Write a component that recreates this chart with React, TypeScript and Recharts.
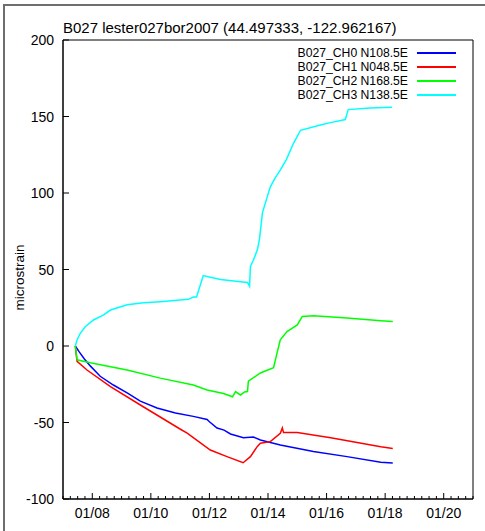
import React from "react";
import { LineChart, Line, XAxis, YAxis, Legend, ReferenceArea } from "recharts";

// x values are days in January 2007 (fractional), y values microstrain
const dayTicks = [8, 10, 12, 14, 16, 18, 20];
const yTicks = [-100, -50, 0, 50, 100, 150, 200];

const seriesNames = ["B027_CH0 N108.5E", "B027_CH1 N048.5E", "B027_CH2 N168.5E", "B027_CH3 N138.5E"];
const seriesColors = ["#0000ff", "#ff0000", "#00ff00", "#00ffff"];

const ch0Days = [7.42, 7.56, 7.73, 7.93, 8.27, 8.72, 9.19, 9.64, 10.21, 10.84, 11.45, 11.92, 12.0, 12.26, 12.5, 12.72, 13.16, 13.5, 13.74, 14.42, 15.55, 16.7, 17.85, 18.26];
const ch0Vals = [0, -4, -8.5, -13, -19.8, -25.5, -30.7, -36, -40.5, -43.8, -46, -48, -49.5, -53.6, -55, -57.5, -60, -59.5, -61.4, -64.7, -69, -72.3, -76, -76.5];

const ch1Days = [7.42, 7.48, 7.82, 8.62, 9.74, 11.01, 11.24, 12.03, 12.6, 13.15, 13.4, 13.63, 13.74, 14.08, 14.42, 14.49, 14.53, 15.0, 16.14, 17.85, 18.26];
const ch1Vals = [0, -10, -15.7, -26.6, -39.7, -54.4, -56.9, -68, -72.3, -76.3, -72.3, -65.8, -63.6, -62.5, -57, -53.6, -56.6, -56.6, -60, -65.8, -67];

const ch2Days = [7.42, 7.48, 7.93, 9.19, 10.32, 11.45, 11.92, 12.48, 12.79, 12.89, 13.06, 13.2, 13.3, 13.33, 13.74, 14.19, 14.31, 14.42, 14.65, 15.0, 15.17, 15.56, 16.7, 17.85, 18.26];
const ch2Vals = [0, -9, -11, -15.7, -21, -25.5, -28.8, -31, -33.2, -29.8, -32, -30, -29.8, -23, -17.6, -14.2, -4.5, 4, 9.4, 13.8, 19.3, 19.8, 18.3, 16.5, 16];

const ch3Days = [7.42, 7.48, 7.59, 7.76, 8.04, 8.39, 8.62, 9.19, 9.75, 10.32, 11.28, 11.45, 11.56, 11.79, 12.03, 12.38, 13.06, 13.3, 13.37, 13.4, 13.5, 13.64, 13.71, 13.81, 13.95, 14.08, 14.25, 14.42, 14.63, 14.87, 15.0, 15.11, 15.79, 16.13, 16.64, 16.74, 17.49, 18.24];
const ch3Vals = [0, 3.9, 8.3, 12.6, 17, 20.3, 23.5, 27, 28.3, 29, 30.5, 32, 32, 46, 45, 43.5, 42, 41.5, 39, 52, 56, 63, 70, 87, 96, 104, 110, 115, 122, 132.5, 137, 141, 144.5, 146, 148, 154.5, 155.6, 156];

const allDays = [ch0Days, ch1Days, ch2Days, ch3Days];
const allVals = [ch0Vals, ch1Vals, ch2Vals, ch3Vals];

const seriesData = allDays.map((days, i) => days.map((d, j) => ({ d, v: allVals[i][j] })));

// 6 hour minor ticks
const minorTicks: number[] = [];
for (let t = 7; t <= 21.001; t += 0.25) minorTicks.push(Math.round(t * 100) / 100);

const font = "'Liberation Sans', Arial, Helvetica, sans-serif";
const fmtDay = (v: number) => `01/${String(v).padStart(2, "0")}`;

const BottomTick = (p: any) => {
  const v = p.payload.value;
  const major = dayTicks.includes(v);
  return (
    <g>
      <line x1={p.x} x2={p.x} y1={p.y} y2={p.y - (major ? 6 : 3)} stroke="#000" strokeWidth={1} />
      {major && (
        <text x={p.x} y={p.y + 19} textAnchor="middle" fontSize={14} fontFamily={font} fill="#000">
          {fmtDay(v)}
        </text>
      )}
    </g>
  );
};

const TopTick = (p: any) => {
  const major = dayTicks.includes(p.payload.value);
  return <line x1={p.x} x2={p.x} y1={p.y} y2={p.y + (major ? 6 : 3)} stroke="#000" strokeWidth={1} />;
};

const LeftTick = (p: any) => (
  <g>
    <line x1={p.x} x2={p.x + 6} y1={p.y} y2={p.y} stroke="#000" strokeWidth={1} />
    <text x={p.x - 9} y={p.y + 5} textAnchor="end" fontSize={14} fontFamily={font} fill="#000">
      {p.payload.value}
    </text>
  </g>
);

const RightTick = (p: any) => <line x1={p.x} x2={p.x - 6} y1={p.y} y2={p.y} stroke="#000" strokeWidth={1} />;

const LegendBox = (props: any) => (
  <div style={{ fontFamily: font, fontSize: 12.2, color: "#000" }}>
    {(props.payload || []).map((e: any) => (
      <div key={e.value} style={{ display: "flex", justifyContent: "flex-end", alignItems: "center", height: 14, lineHeight: "14px" }}>
        <span style={{ whiteSpace: "nowrap" }}>{e.value}</span>
        <span style={{ display: "inline-block", width: 39, height: 2, marginLeft: 9, background: e.color }} />
      </div>
    ))}
  </div>
);

const axisLineStyle = { stroke: "#000", strokeWidth: 1 };

export default function App() {
  return (
    <div style={{ position: "absolute", left: 0, top: 0, width: 485, height: 531, background: "#fff", overflow: "hidden" }}>
      <div style={{ position: "absolute", left: 3, top: 4, width: 500, height: 540, boxSizing: "border-box", borderLeft: "2px solid #6e6e6e", borderTop: "2px solid #6e6e6e" }} />
      <div style={{ position: "absolute", left: 63, top: 20, fontFamily: font, fontSize: 15, lineHeight: "15px", color: "#000", whiteSpace: "nowrap" }}>
        B027 lester027bor2007 (44.497333, -122.962167)
      </div>
      <div style={{ position: "absolute", left: 0, top: 0 }}>
        <LineChart width={485} height={531} margin={{ top: 40, right: 12, bottom: 0, left: 0 }}>
          <XAxis
            dataKey="d"
            type="number"
            domain={[7, 21]}
            allowDataOverflow
            ticks={minorTicks}
            interval={0}
            tickSize={0}
            tickMargin={0}
            tickLine={false}
            tick={BottomTick}
            height={32}
            axisLine={axisLineStyle}
          />
          <XAxis
            xAxisId="top"
            orientation="top"
            type="number"
            domain={[7, 21]}
            allowDataOverflow
            ticks={minorTicks}
            interval={0}
            tickSize={0}
            tickMargin={0}
            tickLine={false}
            tick={TopTick}
            height={0}
            axisLine={axisLineStyle}
          />
          <YAxis
            type="number"
            domain={[-100, 200]}
            allowDataOverflow
            ticks={yTicks}
            interval={0}
            tickSize={0}
            tickMargin={0}
            tickLine={false}
            tick={LeftTick}
            width={63}
            axisLine={axisLineStyle}
            label={{
              content: (lp: any) => {
                const vb = lp.viewBox || { x: 0, y: 40, width: 63, height: 459 };
                const cx = vb.x + 24;
                const cy = vb.y + vb.height / 2 + 8;
                return (
                  <text transform={`translate(${cx},${cy}) rotate(-90)`} textAnchor="middle" fontSize={13.5} fontFamily={font} fill="#000">
                    microstrain
                  </text>
                );
              },
            }}
          />
          <YAxis
            yAxisId="r"
            orientation="right"
            type="number"
            domain={[-100, 200]}
            allowDataOverflow
            ticks={yTicks}
            interval={0}
            tickSize={0}
            tickMargin={0}
            tickLine={false}
            tick={RightTick}
            width={0}
            axisLine={axisLineStyle}
          />
          <ReferenceArea x1={7} x2={21} y1={-100} y2={200} fill="none" stroke="#000" strokeWidth={1} ifOverflow="visible" />
          <Legend
            layout="vertical"
            align="center"
            verticalAlign="middle"
            content={LegendBox}
            wrapperStyle={{ position: "absolute", top: 46, left: 256, width: 200, height: 56 }}
          />
          {seriesData.map((data, i) => (
            <Line
              key={seriesNames[i]}
              data={data}
              dataKey="v"
              name={seriesNames[i]}
              stroke={seriesColors[i]}
              strokeWidth={1.5}
              dot={false}
              type="linear"
              isAnimationActive={false}
            />
          ))}
        </LineChart>
      </div>
    </div>
  );
}
